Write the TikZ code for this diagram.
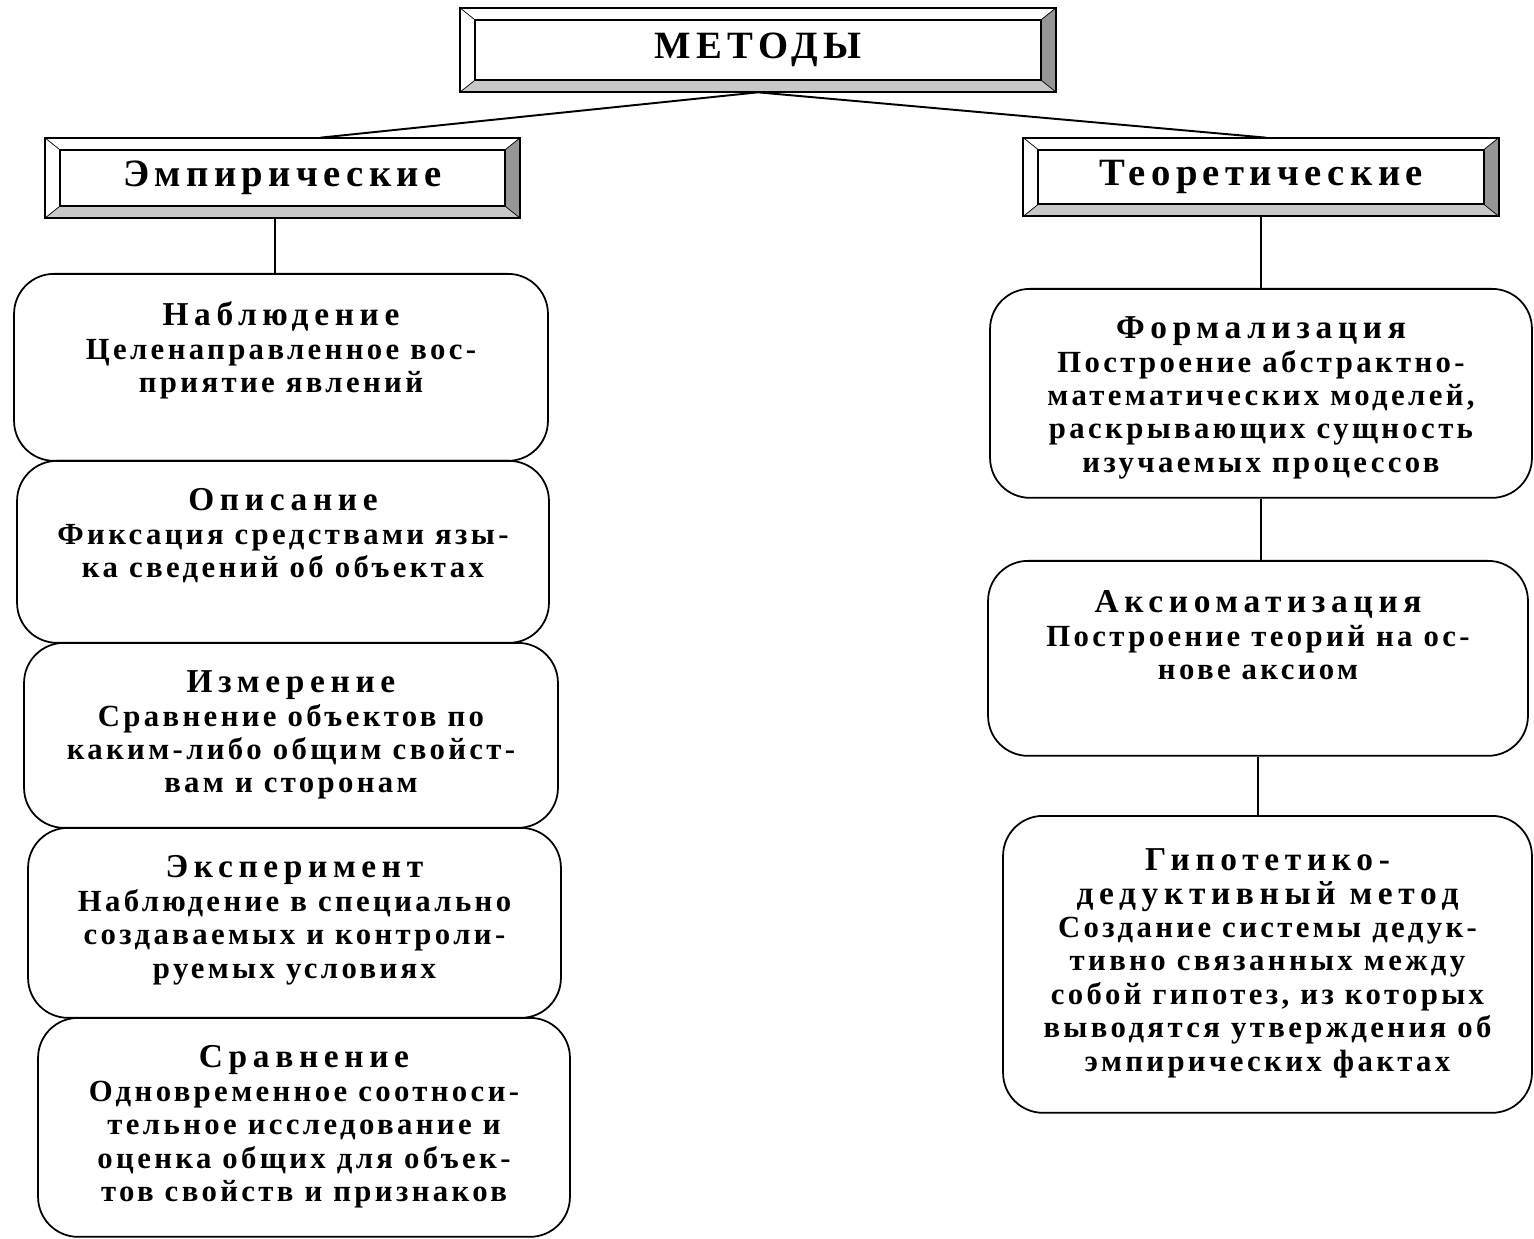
\documentclass[tikz,border=0pt]{standalone}
\usepackage{fontspec}
\setmainfont{Liberation Serif}
\newfontfamily\bodyfam[LetterSpace=11]{Liberation Serif}
\newfontfamily\titlefam[LetterSpace=17]{Liberation Serif}
\newfontfamily\headfam[LetterSpace=14]{Liberation Serif}
\usetikzlibrary{positioning, calc}
\definecolor{bevdark}{RGB}{150,150,150}
\definecolor{bevlight}{RGB}{200,200,200}

% text of a method box: [top gap], width, height, title, description
\newcommand{\mtext}[5][0.56cm]{%
  \parbox[c][#3][t]{#2}{\centering\bodyfam\bfseries\fontsize{17.5}{19}\selectfont
    \vspace*{#1}%
    {\titlefam\bfseries\fontsize{19}{19.5}\selectfont #4}\\
    #5}}

% bevelled frame round a named node
\newcommand{\bevelframe}[1]{%
  \coordinate (#1-a) at ($(#1.north west)+(0.3cm,-0.24cm)$);
  \coordinate (#1-b) at ($(#1.north east)+(-0.3cm,-0.24cm)$);
  \coordinate (#1-c) at ($(#1.south east)+(-0.3cm,0.24cm)$);
  \coordinate (#1-d) at ($(#1.south west)+(0.3cm,0.24cm)$);
  \fill[bevdark] (#1.north east) -- (#1.south east) -- (#1-c) -- (#1-b) -- cycle;
  \fill[bevlight] (#1.south west) -- (#1.south east) -- (#1-c) -- (#1-d) -- cycle;
  \draw[frame] (#1.north west) rectangle (#1.south east);
  \draw[frame] (#1-a) -- (#1-b) -- (#1-c) -- (#1-d) -- cycle;
  \draw[thin] (#1.north west) -- (#1-a) (#1.north east) -- (#1-b)
              (#1.south east) -- (#1-c) (#1.south west) -- (#1-d);
}

\begin{document}
\begin{tikzpicture}[x=0.02cm, y=-0.02cm,
    frame/.style={line width=1pt},
    head/.style={inner sep=0pt, font=\headfam\bfseries\fontsize{22}{24}\selectfont},
    method/.style={draw, line width=1pt, rounded corners=0.8cm, inner sep=0pt, anchor=north},
    link/.style={line width=1.1pt}]
    \useasboundingbox (0,0) rectangle (1534,1239);

    % --- Titres ---
    \node[head, minimum width=11.92cm, minimum height=1.68cm] (metody) at (758,50) {МЕТОДЫ};
    \node[head, minimum width=9.5cm, minimum height=1.6cm] (emp) at (282.5,178) {Эмпирические};
    \node[head, minimum width=9.5cm, minimum height=1.56cm] (teor) at (1261,177) {Теоретические};
    \bevelframe{metody}
    \bevelframe{emp}
    \bevelframe{teor}

    % --- Méthodes empiriques ---
    \node[method] (nabl) at (281,273) {\mtext{10.68cm}{3.74cm}{Наблюдение}
      {Целенаправленное вос-\\приятие явлений}};
    \node[method] (opis) at (283,460) {\mtext{10.64cm}{3.64cm}{Описание}
      {Фиксация средствами язы-\\ка сведений об объектах}};
    \node[method] (izm) at (291,642) {\mtext{10.68cm}{3.7cm}{Измерение}
      {Сравнение объектов по\\каким-либо общим свойст-\\вам и сторонам}};
    \node[method] (eksp) at (294.5,827) {\mtext{10.66cm}{3.8cm}{Эксперимент}
      {Наблюдение в специально\\создаваемых и контроли-\\руемых условиях}};
    \node[method] (sravn) at (304,1017) {\mtext{10.64cm}{4.38cm}{Сравнение}
      {Одновременное соотноси-\\тельное исследование и\\оценка общих для объек-\\тов свойств и признаков}};

    % --- Méthodes théoriques ---
    \node[method] (form) at (1261,288) {\mtext{10.84cm}{4.18cm}{Формализация}
      {Построение абстрактно-\\математических моделей,\\раскрывающих сущность\\изучаемых процессов}};
    \node[method] (aks) at (1258,560) {\mtext[0.6cm]{10.8cm}{3.9cm}{Аксиоматизация}
      {Построение теорий на ос-\\нове аксиом}};
    \node[method] (gip) at (1267.5,815) {\mtext[0.66cm]{10.58cm}{5.94cm}{Гипотетико-\\дедуктивный метод}
      {Создание системы дедук-\\тивно связанных между\\собой гипотез, из которых\\выводятся утверждения об\\эмпирических фактах}};

    % --- Liaisons ---
    \draw[link] (metody.south) -- ([xshift=0.76cm]emp.north);
    \draw[link] (metody.south) -- ([xshift=0.1cm]teor.north);
    \draw[link] ([xshift=-0.15cm]emp.south) -- ([xshift=-0.15cm]emp.south |- nabl.north);
    \draw[link] (teor.south) -- (teor.south |- form.north);
    \draw[link] (form.south) -- (form.south |- aks.north);
    \draw[link] (aks.south) -- (aks.south |- gip.north);
\end{tikzpicture}
\end{document}
